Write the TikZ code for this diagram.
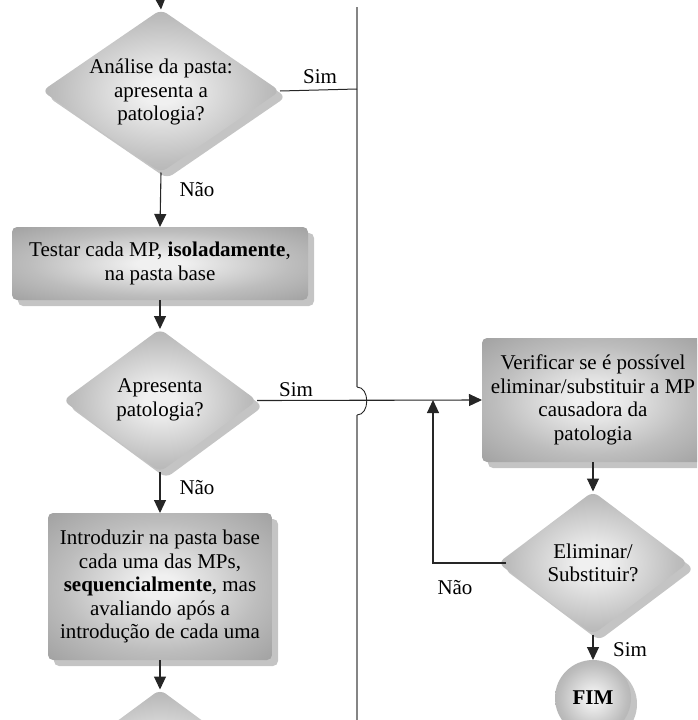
\documentclass[tikz,border=0pt]{standalone}
\usepackage{fontspec}
\setmainfont{Liberation Serif}
\usetikzlibrary{shapes.geometric,shadows,arrows.meta}
\definecolor{glowin}{HTML}{F0F0F0}
\definecolor{glowmid}{HTML}{BDBDBD}
\definecolor{glowout}{HTML}{848484}
\definecolor{shadowgray}{HTML}{C4C4C4}
\definecolor{railgray}{HTML}{858585}
\pgfdeclareradialshading{glow}{\pgfpoint{0bp}{0bp}}{color(0bp)=(glowin); color(4bp)=(glowin); color(22bp)=(glowmid); color(50bp)=(glowout)}

\begin{document}
\begin{tikzpicture}[x=1pt,y=-1pt,
  base/.style={shading=glow, draw=none, inner sep=0pt, outer sep=0pt,
    drop shadow={shadow xshift=6pt, shadow yshift=-6pt, fill=shadowgray, opacity=1}},
  procbox/.style={base, rectangle, rounded corners=5pt, align=center,
    font=\fontsize{21}{23.5}\selectfont},
  decision/.style={base, diamond, rounded corners=7pt},
  endcircle/.style={base, circle, font=\fontsize{21}{23.5}\selectfont\bfseries},
  txt/.style={font=\fontsize{21}{23.5}\selectfont, align=center, inner sep=0pt},
  flow/.style={draw=black!85, line width=1.1pt, -{Triangle[width=12pt,length=13pt]}},
  plain/.style={draw=black!85, line width=1pt},
  rail/.style={draw=railgray, line width=1.8pt}]

\useasboundingbox (0,0) rectangle (697,720);
\clip (0,0) rectangle (697,720);

% left column
\node[decision, minimum width=238pt, minimum height=163pt] (d1) at (161,91) {};
\node[txt] (d1t) at (161,92) {Análise da pasta:\\apresenta a\\patologia?};

\node[procbox, minimum width=296pt, minimum height=73pt] (b1) at (160,263.5)
  {Testar cada MP, \textbf{isoladamente},\\na pasta base};

\node[decision, minimum width=194pt, minimum height=143pt] (d2) at (160,400.5) {};
\node[txt] (d2t) at (160,400) {Apresenta\\patologia?};

\node[procbox, minimum width=224pt, minimum height=147pt] (b3) at (160,586.5)
  {Introduzir na pasta base\\cada uma das MPs,\\\textbf{sequencialmente}, mas\\avaliando após a\\introdução de cada uma};

\node[decision, minimum width=194pt, minimum height=143pt] (d4) at (160,761) {};

% right column
\node[procbox, minimum width=222pt, minimum height=124pt] (ver) at (593,400)
  {Verificar se é possível\\eliminar/substituir a MP\\causadora da\\patologia};

\node[decision, minimum width=190pt, minimum height=143pt] (d3) at (593,563) {};
\node[txt] (d3t) at (593,563) {Eliminar/\\Substituir?};

\node[endcircle, minimum size=76pt] (fim) at (593,698) {FIM};

% vertical divider with a hop over the crossing connector
\coordinate (railtop) at (357,7);
\coordinate (railbot) at (357,722);
\coordinate (hopa) at (357,387);
\coordinate (hopb) at (357,415);
\coordinate (join) at (357,89);
\draw[rail] (railtop) -- (hopa);
\draw[rail] (hopb) -- (railbot);
\draw[plain, line width=0.9pt] (hopa) .. controls (370,387) and (370,415) .. (hopb);

% connectors
\coordinate (entry) at (160,-5);
\draw[flow] (entry) -- (d1.north);
\draw[plain] (d1.east) -- (join);
\draw[flow] (d1.south) -- (b1.north);
\draw[flow] (b1.south) -- (d2.north);
\draw[flow] (d2.east) -- (ver.west);
\draw[flow] (d2.south) -- (b3.north);
\draw[flow] (b3.south) -- (d4.north);
\draw[flow] (ver.south) -- (d3.north);
\coordinate (loopc) at (433,563);
\coordinate (loopend) at (433,400);
\draw[flow] ([xshift=8pt]d3.west) -- (loopc) -- (loopend);
\draw[flow] (d3.south) -- (fim.north);

% branch labels
\node[txt] (l1) at (320,77) {Sim};
\node[txt] (l2) at (197,190) {Não};
\node[txt] (l3) at (296,390) {Sim};
\node[txt] (l4) at (197,488) {Não};
\node[txt] (l5) at (455,588) {Não};
\node[txt] (l6) at (630,650) {Sim};
\end{tikzpicture}
\end{document}
